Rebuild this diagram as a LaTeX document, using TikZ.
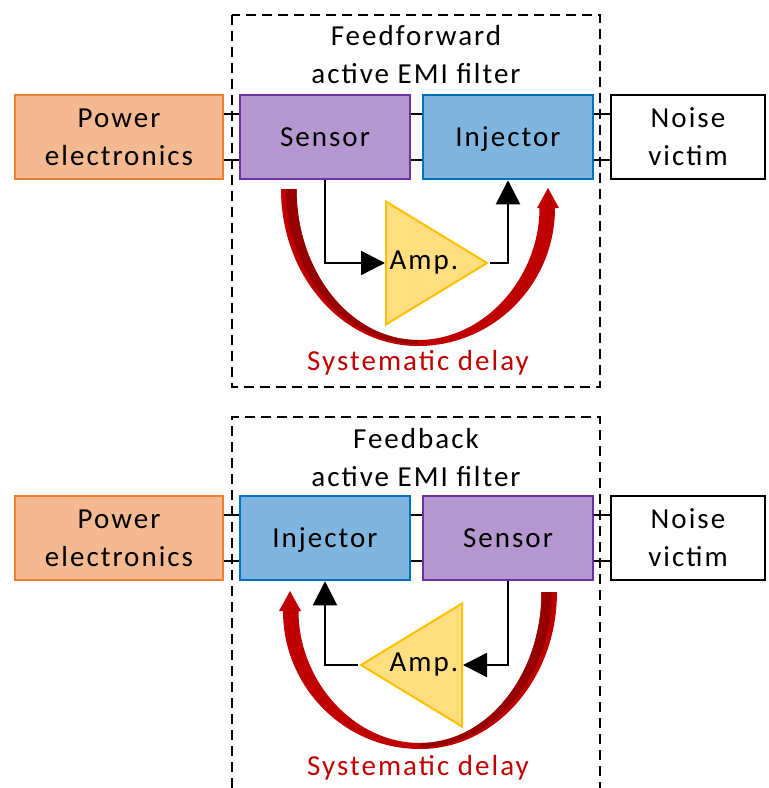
\documentclass[tikz,border=0pt]{standalone}
\usepackage{fontspec}
\setmainfont{Carlito}[LetterSpace=7]
\usetikzlibrary{arrows.meta,shapes.geometric}

\definecolor{pwrfill}{HTML}{F4B990}
\definecolor{pwrline}{HTML}{ED7D31}
\definecolor{sensfill}{HTML}{B498CF}
\definecolor{sensline}{HTML}{7030A0}
\definecolor{injfill}{HTML}{7FB5DE}
\definecolor{injline}{HTML}{0070C0}
\definecolor{ampfill}{HTML}{FFDE80}
\definecolor{ampline}{HTML}{FFC000}
\definecolor{delayred}{HTML}{C00000}
\definecolor{delaydark}{HTML}{960000}

\tikzset{
  every node/.style={font=\fontsize{29}{38}\selectfont},
  box/.style={draw, line width=2.5pt, minimum width=170pt, minimum height=84pt,
              inner sep=0pt, align=center},
  oneline/.style={execute at begin node={\rule[-6pt]{0pt}{30.4pt}}},
  pwrbox/.style={box, fill=pwrfill, draw=pwrline, minimum width=208pt},
  sensbox/.style={box, oneline, fill=sensfill, draw=sensline},
  injbox/.style={box, oneline, fill=injfill, draw=injline},
  victimbox/.style={box, fill=white, minimum width=154pt},
  amptri/.style={isosceles triangle, isosceles triangle stretches,
                 minimum height=101pt, minimum width=123pt, inner sep=0pt,
                 draw=ampline, fill=ampfill, line width=2pt, anchor=lower side},
  wire/.style={line width=2pt},
  sig/.style={line width=2pt, -{Triangle[width=24pt,length=24pt]}},
  frame/.style={line width=2.5pt, dash pattern=on 10pt off 6pt},
  delaytxt/.style={text=delayred}
}

% thick curved arrow, drawn round (0,0)
\newcommand\delayarrow{%
  \fill[delayred] (-137,0) .. controls (-137,86.7) and (-75.7,157) .. (0,157)
    .. controls (75.7,157) and (137,95) .. (137,19)
    -- (141,19) -- (130,-1) -- (119,19) -- (121.5,19)
    .. controls (121.5,88) and (67.1,151) .. (0,151)
    .. controls (-67.1,151) and (-121.5,83.4) .. (-121.5,0) -- cycle;
  \fill[delaydark] (-132,0) .. controls (-132,85) and (-73,155) .. (0,155)
    -- (0,151) .. controls (-67.1,151) and (-121.5,83.4) .. (-121.5,0) -- cycle;
}

\begin{document}
\begin{tikzpicture}[x=1pt,y=-1pt]
  \useasboundingbox (0,0) rectangle (769,788);

  % feedforward
  \draw[frame] (232,15) rectangle (600,387);
  \node[align=center] (title1) at (416,55) {Feedforward\\active EMI filter};
  \node[pwrbox] (pe1) at (119,137) {Power\\electronics};
  \node[sensbox] (sen1) at (325,137) {Sensor};
  \node[injbox] (inj1) at (508,137) {Injector};
  \node[victimbox] (nv1) at (688,137) {Noise\\victim};
  \foreach \dy in {23,-23} {
    \draw[wire] ([yshift=\dy pt]pe1.east) -- ([yshift=\dy pt]sen1.west);
    \draw[wire] ([yshift=\dy pt]sen1.east) -- ([yshift=\dy pt]inj1.west);
    \draw[wire] ([yshift=\dy pt]inj1.east) -- ([yshift=\dy pt]nv1.west);
  }
  \begin{scope}[shift={(418,189)}]
    \delayarrow
  \end{scope}
  \node[amptri] (amp1) at (385,263) {};
  \node (amptxt1) at (424,263) {Amp.};
  \draw[sig] (sen1.south) |- (amp1.lower side);
  \draw[sig] (amp1.apex) -| (inj1.south);
  \node[delaytxt] (delay1) at (418,363) {Systematic delay};

  % feedback
  \draw[frame] (232,788) |- (600,417) -- (600,788);
  \node[align=center] (title2) at (416,458) {Feedback\\active EMI filter};
  \node[pwrbox] (pe2) at (119,538) {Power\\electronics};
  \node[injbox] (inj2) at (325,538) {Injector};
  \node[sensbox] (sen2) at (508,538) {Sensor};
  \node[victimbox] (nv2) at (688,538) {Noise\\victim};
  \foreach \dy in {23,-23} {
    \draw[wire] ([yshift=\dy pt]pe2.east) -- ([yshift=\dy pt]inj2.west);
    \draw[wire] ([yshift=\dy pt]inj2.east) -- ([yshift=\dy pt]sen2.west);
    \draw[wire] ([yshift=\dy pt]sen2.east) -- ([yshift=\dy pt]nv2.west);
  }
  \begin{scope}[shift={(420,592)}, xscale=-1]
    \delayarrow
  \end{scope}
  \node[amptri, shape border rotate=180] (amp2) at (463,665) {};
  \node (amptxt2) at (424,665) {Amp.};
  \draw[sig] (sen2.south) |- (amp2.lower side);
  \draw[sig] (amp2.apex) -| (inj2.south);
  \node[delaytxt] (delay2) at (418,768) {Systematic delay};
\end{tikzpicture}
\end{document}
